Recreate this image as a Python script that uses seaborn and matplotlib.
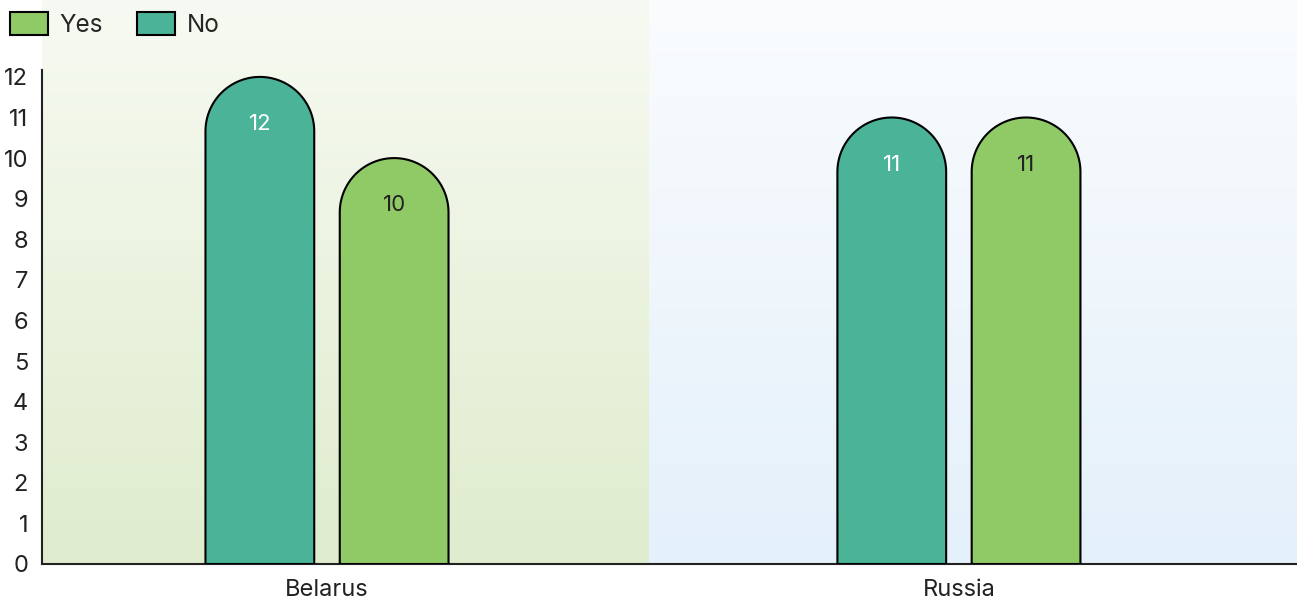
import numpy as np
import pandas as pd
import matplotlib.pyplot as plt
import matplotlib.colors as mcolors
import seaborn as sns
from matplotlib.path import Path
from matplotlib.patches import PathPatch, Patch

countries = ['Belarus', 'Belarus', 'Russia', 'Russia']
answers = ['No', 'Yes', 'No', 'Yes']
counts = [12, 10, 11, 11]

hue_order = ['No', 'Yes']
colors = {'No': '#4bb398', 'Yes': '#8fca66'}
label_colors = {'No': 'white', 'Yes': '#222222'}

df = pd.DataFrame({'Country': countries, 'Answer': answers, 'Count': counts})

sns.set_style('white')
plt.rcParams['font.family'] = ['Inter', 'DejaVu Sans']

W, H = 1297, 602
fig = plt.figure(figsize=(W / 100, H / 100), dpi=100)

xlim = (-0.451, 1.535)
ylim = (0, 12.17)
left, bottom, right, top = 42, 564, 1297, 70

# background panels (vertical gradient), reaching up to the top of the figure
bg = fig.add_axes([left / W, (H - bottom) / H, (right - left) / W, bottom / H])
bg.axis('off')
grad = np.linspace(0, 1, 256)[:, None, None]


def gradient(c_top, c_bot):
    c_top = np.array(c_top) / 255
    c_bot = np.array(c_bot) / 255
    return c_top * (1 - grad) + c_bot * grad


bg.imshow(gradient((247, 250, 242), (223, 236, 205)), extent=(xlim[0], 0.51, 0, 1), aspect='auto')
bg.imshow(gradient((250, 252, 254), (228, 240, 250)), extent=(0.51, xlim[1], 0, 1), aspect='auto')
bg.set_xlim(xlim)
bg.set_ylim(0, 1)

ax = fig.add_axes([left / W, (H - bottom) / H, (right - left) / W, (bottom - top) / H])
ax.set_facecolor('none')
sns.barplot(data=df, x='Country', y='Count', hue='Answer', hue_order=hue_order,
            palette=colors, saturation=1, width=0.425, gap=0.19, legend=False, ax=ax)
ax.set_xlim(xlim)
ax.set_ylim(ylim)

# replace rectangles with round-topped bars
px = ax.transData.transform([[0, 0], [1, 1]])
sx = px[1, 0] - px[0, 0]
sy = px[1, 1] - px[0, 1]
bars = [p for p in ax.patches if p.get_height() > 0]
for rect in bars:
    x0, w, h = rect.get_x(), rect.get_width(), rect.get_height()
    rx = w / 2
    ry = rx * sx / sy
    cx = x0 + rx
    t = np.linspace(np.pi, 0, 60)
    arc = np.column_stack([cx + rx * np.cos(t), h - ry + ry * np.sin(t)])
    verts = np.vstack([[x0, 0], [x0, h - ry], arc, [x0 + w, 0], [x0, 0]])
    codes = [Path.MOVETO] + [Path.LINETO] * (len(verts) - 2) + [Path.CLOSEPOLY]
    ax.add_patch(PathPatch(Path(verts, codes), facecolor=rect.get_facecolor(),
                           edgecolor='black', linewidth=1.5, zorder=3))
    rect.set_visible(False)
    key = 'No' if mcolors.to_hex(rect.get_facecolor()) == colors['No'] else 'Yes'
    ax.annotate(f'{int(h)}', (cx, h), xytext=(0, -34), textcoords='offset points',
                ha='center', va='center', fontsize=16, color=label_colors[key], zorder=4)

ax.set_yticks(range(0, 13))
ax.set_xlabel('')
ax.set_ylabel('')
ax.tick_params(axis='both', length=0, labelsize=17, colors='#222222')
ax.tick_params(axis='y', pad=10)
ax.tick_params(axis='x', pad=11)
sns.despine(ax=ax)
for s in ['left', 'bottom']:
    ax.spines[s].set_color('#222222')
    ax.spines[s].set_linewidth(1.5)

handles = [Patch(facecolor=colors['Yes'], edgecolor='black', linewidth=1.5, label='Yes'),
           Patch(facecolor=colors['No'], edgecolor='black', linewidth=1.5, label='No')]
fig.legend(handles=handles, loc='upper left', bbox_to_anchor=(10 / W, 1 - 12 / H), ncol=2,
           frameon=False, fontsize=17.5, handlelength=1.55, handleheight=1.1,
           handletextpad=0.5, columnspacing=1.4, borderaxespad=0, borderpad=0)

fig.savefig('out.png', dpi=100)
